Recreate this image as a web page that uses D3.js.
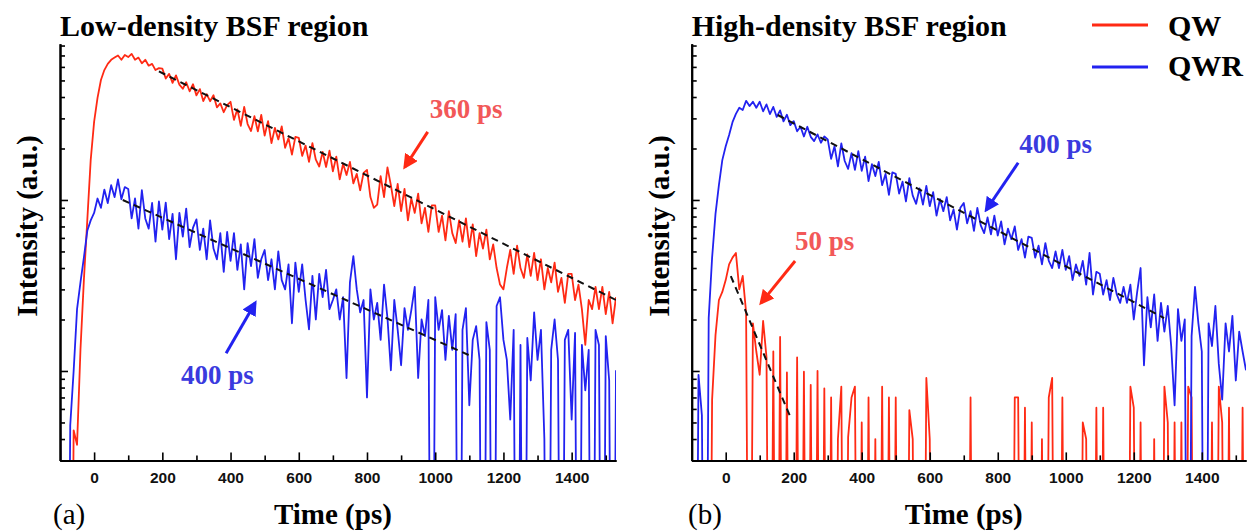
<!DOCTYPE html>
<html>
<head>
<meta charset="utf-8">
<script src="https://cdn.jsdelivr.net/npm/d3@7"></script>
<style>
  body { margin: 0; background: #fff; }
  svg { display: block; }
</style>
</head>
<body>
<svg id="chart" width="1252" height="531"></svg>
<script>
// time bins of the streak trace: first bin -100 ps, 10 ps wide
const t0 = -100, dt = 10;

// (a) low-density BSF region, QW (red)
const qwLow = [
  0.68, 0, 0, 0, 0.45, 0.37, 1.33, 3.4, 7.6, 17.1,
  28.6, 39.5, 50.3, 57.5, 62.5, 66, 68, 70, 66, 70.5,
  68.5, 71.5, 66, 68, 63, 66, 61, 62.5, 57.5, 59,
  58.6, 51.3, 54.6, 48.4, 53.5, 47.3, 44.7, 48.8, 43.2, 47.5,
  40.9, 44.5, 37.9, 41.6, 37.8, 41.0, 34.8, 36.7, 32.6, 35.9,
  37.5, 29.4, 33.9, 27.1, 35.0, 27.8, 25.3, 30.9, 25.2, 31.4,
  23.8, 28.9, 21.5, 26.4, 22.6, 26.9, 20.2, 23.0, 18.4, 23.4,
  23.1, 18.1, 20.8, 16.7, 21.5, 17.2, 15.7, 19.1, 15.6, 19.4,
  14.7, 17.9, 13.2, 16.3, 14.0, 16.7, 12.5, 14.2, 11.4, 14.4,
  15.0, 10.4, 9.0, 9.4, 13.8, 10.4, 15.5, 12.2, 9.2, 12.4,
  8.6, 11.6, 7.6, 10.2, 8.4, 10.9, 7.3, 9.0, 6.5, 9.3,
  9.3, 6.5, 8.1, 5.8, 8.6, 6.4, 5.6, 7.6, 5.7, 7.8,
  5.3, 7.2, 4.7, 6.4, 5.2, 6.7, 4.5, 5.5, 4.0, 3.2,
  3.0, 4.0, 5.1, 3.7, 5.4, 4.0, 3.5, 4.8, 3.6, 4.9,
  3.4, 4.5, 3.0, 4.0, 3.3, 4.3, 2.9, 3.5, 2.5, 3.7,
  3.7, 2.6, 3.2, 2.3, 1.42, 2.6, 2.3, 3.1, 2.3, 3.1,
  2.15, 2.9, 1.9, 2.7
];

// (a) low-density BSF region, QWR (blue)
const qwrLow = [
  0.88, 0, 0, 0.48, 1.0, 2.3, 3.3, 4.6, 6.6, 7.6,
  8.4, 10.2, 9.0, 11.5, 9.6, 12.2, 10.4, 13.2, 10.1, 11.9,
  11.6, 7.8, 10.2, 6.8, 11.4, 7.8, 6.8, 9.6, 5.7, 9.8,
  6.7, 9.65, 5.9, 8.3, 4.5, 8.4, 6.1, 8.9, 5.3, 6.9,
  7.7, 5.1, 6.8, 4.5, 7.6, 5.2, 4.5, 6.4, 3.8, 6.5,
  4.4, 6.4, 3.9, 5.5, 3.0, 5.6, 4.1, 5.9, 3.5, 4.5,
  5.1, 3.4, 4.5, 3.0, 5.0, 3.4, 3.0, 4.2, 1.9, 4.3,
  2.9, 4.2, 2.6, 1.75, 3.6, 2.0, 3.7, 2.7, 3.9, 2.3,
  2.6, 3.0, 2.0, 2.7, 0.91, 3.3, 4.7, 3.0, 2.2, 2.6,
  0.70, 3.0, 2.0, 2.5, 1.52, 3.2, 2.04, 1.01, 2.6, 1.74,
  1.08, 2.33, 1.74, 2.27, 3.1, 0.91, 2.0, 1.6, 2.6, 0,
  2.7, 1.74, 2.27, 1.16, 2.1, 1.33, 2.15, 0, 1.74, 2.33,
  0.63, 1.52, 1.83, 1.16, 0, 1.93, 1.33, 0, 2.4, 2.7,
  1.52, 1.16, 0.52, 1.74, 0, 1.42, 0, 1.56, 0.88, 2.2,
  1.16, 1.74, 0.40, 0, 1.33, 2.0, 1.16, 0, 1.52, 1.74,
  0.52, 1.67, 0, 1.42, 0.77, 1.33, 0, 1.74, 1.42, 0,
  1.6, 0.88, 0, 1.01
];

// (b) high-density BSF region, QW (red)
const qwHigh = [
  0.59, 0, 0, 0, 0, 0, 0.68, 1.62, 2.6, 2.9,
  3.4, 4.2, 4.6, 4.9, 3.0, 3.6, 2.2, 0, 1.9, 1.3,
  0.95, 1.96, 1.2, 0, 1.3, 0, 1.58, 0, 0.98, 0,
  0, 1.2, 0, 0.99, 0, 0.83, 0, 1.0, 0, 0.79,
  0, 0.70, 0, 0.40, 0.81, 0, 0.41, 0.70, 0.81, 0,
  0.50, 0, 0.70, 0, 0.40, 0, 0.81, 0, 0.70, 0,
  0.70, 0, 0, 0, 0.59, 0.40, 0, 0, 0, 0.91,
  0.40, 0, 0, 0, 0, 0, 0, 0, 0, 0,
  0, 0, 0.70, 0, 0, 0, 0, 0, 0, 0,
  0, 0, 0, 0, 0, 0.70, 0.70, 0, 0.61, 0,
  0.50, 0, 0, 0.40, 0, 0.70, 0.91, 0, 0, 0.70,
  0, 0, 0, 0, 0, 0.50, 0.40, 0, 0, 0.61,
  0, 0.61, 0, 0, 0, 0, 0, 0, 0, 0.81,
  0.61, 0, 0.50, 0, 0, 0, 0.40, 0, 0, 0.81,
  0.50, 0, 0.50, 0, 0.50, 0, 0.81, 0.70, 0, 0,
  0, 0, 0, 0.50, 0, 0.81, 0.50, 0, 0.61, 0,
  0, 0, 0.61, 0
];

// (b) high-density BSF region, QWR (blue)
const qwrHigh = [
  0, 0, 0.95, 0.55, 0, 2.04, 4.6, 8.3, 12.2, 17.1,
  20.6, 24, 28.5, 31.9, 34.6, 33.6, 38, 35.4, 37.5, 34.6,
  37.5, 33.0, 36.2, 31.8, 35.0, 30.6, 33.4, 28.8, 31.5, 27.4,
  28.9, 25.2, 26.8, 23.5, 26.8, 23.4, 22.1, 24.2, 21.6, 23.5,
  22.6, 17.4, 20.6, 15.7, 21.4, 16.9, 15.2, 18.8, 15.0, 19.3,
  14.8, 17.9, 12.9, 16.2, 13.8, 16.7, 12.2, 14.2, 10.7, 14.5,
  14.2, 10.9, 12.8, 9.8, 13.4, 10.6, 9.5, 11.7, 9.4, 12.1,
  9.2, 11.1, 8.1, 10.1, 8.6, 10.4, 7.6, 8.8, 6.7, 9.0,
  9.6, 7.3, 8.6, 6.6, 9.0, 7.1, 6.4, 7.9, 6.3, 8.1,
  6.2, 7.5, 5.5, 6.8, 5.9, 7.0, 5.1, 5.9, 4.6, 6.1,
  6.0, 4.6, 5.4, 4.2, 5.6, 4.4, 4.0, 5.0, 4.0, 5.1,
  3.9, 4.7, 3.4, 4.2, 3.6, 4.4, 3.2, 4.9, 2.8, 3.8,
  3.7, 2.8, 3.4, 2.6, 3.5, 2.8, 2.5, 3.1, 2.5, 3.2,
  2.0, 2.9, 4.0, 1.08, 2.7, 1.8, 2.8, 1.5, 2.5, 1.7,
  2.4, 1.4, 0.63, 2.3, 1.5, 2.0, 0, 1.6, 3.1, 1.9,
  1.3, 0, 1.9, 1.4, 2.4, 1.1, 0.68, 1.9, 1.3, 2.1,
  0.88, 1.7, 1.3, 1.01
];

// single-exponential fits, start and end as [ps, a.u.]
const fitLowQw   = [[190, 56.5], [1530, 2.6]];
const fitLowQwr  = [[84, 10], [1098, 1.24]];
const fitHighQw  = [[15, 3.59], [189, 0.545]];
const fitHighQwr = [[153, 31.4], [1289, 2.04]];

const xTicks = [0, 200, 400, 600, 800, 1000, 1200, 1400];
const xMinor = [100, 300, 500, 700, 900, 1100, 1300, 1500];
const yMajor = [1, 10];
const yMinor = [0.3, 0.4, 0.5, 0.6, 0.7, 0.8, 0.9, 2, 3, 4, 5, 6, 7, 8, 9, 20, 30, 40, 50, 60, 70, 80];

const seriesNames = ["QW", "QWR"];

const red = "#ff2a14", blue = "#2222f0";
const redText = "#f25858", blueText = "#3a3ade";
const serif = "'Liberation Serif', 'Times New Roman', serif";
const sans = "'Liberation Sans', Arial, sans-serif";

const plotTop = 43.7, plotBottom = 460.4;

const panels = [
  {
    left: 60, right: 616, title: "Low-density BSF region", tag: "(a)", tagX: 53,
    qw: qwLow, qwr: qwrLow, fits: [fitLowQw, fitLowQwr],
    notes: [
      {text: "360 ps", color: redText, arrow: red, at: [984, 30.2], from: [978, 25], to: [911, 15.6]},
      {text: "400 ps", color: blueText, arrow: blue, at: [255, 0.84], from: [387, 1.27], to: [472, 2.5]}
    ]
  },
  {
    left: 691.7, right: 1246, title: "High-density BSF region", tag: "(b)", tagX: 688,
    qw: qwHigh, qwr: qwrHigh, fits: [fitHighQw, fitHighQwr],
    notes: [
      {text: "50 ps", color: redText, arrow: red, at: [204, 5.1], from: [204, 4.4], to: [104, 2.5]},
      {text: "400 ps", color: blueText, arrow: blue, at: [863, 18.8], from: [860, 16.5], to: [766, 8.74]}
    ]
  }
];

const svg = d3.select("#chart");
const defs = svg.append("defs");

[["red", red], ["blue", blue]].forEach(([k, c]) => {
  defs.append("marker")
    .attr("id", "head-" + k)
    .attr("viewBox", "0 0 10 10")
    .attr("refX", 8).attr("refY", 5)
    .attr("markerWidth", 5).attr("markerHeight", 5)
    .attr("markerUnits", "strokeWidth")
    .attr("orient", "auto")
    .append("path")
    .attr("d", "M0,0 L10,5 L0,10 Z")
    .attr("fill", c);
});

panels.forEach((p, pi) => {
  const x = d3.scaleLinear().domain([-100, 1530]).range([p.left, p.right]);
  const y = d3.scaleLog().domain([0.3, 82]).range([plotBottom, plotTop]);

  const clipId = "clip" + pi;
  defs.append("clipPath").attr("id", clipId)
    .append("rect")
    .attr("x", p.left).attr("y", plotTop - 2)
    .attr("width", p.right - p.left).attr("height", plotBottom - plotTop + 2);

  const line = d3.line()
    .x((d, i) => x(t0 + i * dt))
    .y(d => y(Math.max(d, 1e-3)));

  const g = svg.append("g").attr("clip-path", `url(#${clipId})`);

  g.append("path").datum(p.qw)
    .attr("d", line)
    .attr("fill", "none").attr("stroke", red).attr("stroke-width", 1.8)
    .attr("stroke-linejoin", "round");

  g.append("path").datum(p.qwr)
    .attr("d", line)
    .attr("fill", "none").attr("stroke", blue).attr("stroke-width", 1.8)
    .attr("stroke-linejoin", "round");

  const fitLine = d3.line().x(d => x(d[0])).y(d => y(d[1]));
  p.fits.forEach(f => {
    g.append("path").datum(f)
      .attr("d", fitLine)
      .attr("fill", "none").attr("stroke", "#111")
      .attr("stroke-width", 2).attr("stroke-dasharray", "7,5");
  });

  // axes, ticks pointing inward
  const xAxis = svg.append("g").attr("transform", `translate(0,${plotBottom})`)
    .call(d3.axisBottom(x).tickValues(xTicks).tickFormat(d3.format("d"))
      .tickSize(-8).tickSizeOuter(0).tickPadding(12));
  svg.append("g").attr("transform", `translate(0,${plotBottom})`)
    .call(d3.axisBottom(x).tickValues(xMinor).tickSize(-5).tickSizeOuter(0).tickFormat(""));

  svg.append("g").attr("transform", `translate(${p.left},0)`)
    .call(d3.axisLeft(y).tickValues(yMajor).tickSize(-8).tickSizeOuter(0).tickFormat(""));
  svg.append("g").attr("transform", `translate(${p.left},0)`)
    .call(d3.axisLeft(y).tickValues(yMinor).tickSize(-5).tickSizeOuter(0).tickFormat(""));

  svg.selectAll(".domain").attr("stroke", "#000").attr("stroke-width", 2);
  svg.selectAll(".tick line").attr("stroke", "#000").attr("stroke-width", 1.6);

  xAxis.selectAll("text")
    .attr("font-family", sans).attr("font-weight", "bold")
    .attr("font-size", 15.5).attr("fill", "#111");

  // annotations
  p.notes.forEach(n => {
    svg.append("line")
      .attr("x1", x(n.from[0])).attr("y1", y(n.from[1]))
      .attr("x2", x(n.to[0])).attr("y2", y(n.to[1]))
      .attr("stroke", n.arrow).attr("stroke-width", 3)
      .attr("marker-end", `url(#head-${n.arrow === red ? "red" : "blue"})`);
    svg.append("text")
      .attr("x", x(n.at[0])).attr("y", y(n.at[1]))
      .attr("font-family", serif).attr("font-weight", "bold")
      .attr("font-size", 27).attr("fill", n.color)
      .text(n.text);
  });

  // titles and labels
  svg.append("text")
    .attr("x", p.left).attr("y", 36)
    .attr("font-family", serif).attr("font-weight", "bold").attr("font-size", 30)
    .text(p.title);

  svg.append("text")
    .attr("x", x(700)).attr("y", 524)
    .attr("text-anchor", "middle")
    .attr("font-family", serif).attr("font-weight", "bold").attr("font-size", 29)
    .text("Time (ps)");

  svg.append("text")
    .attr("x", p.tagX).attr("y", 524)
    .attr("font-family", serif).attr("font-size", 29)
    .text(p.tag);

  svg.append("text")
    .attr("transform", `translate(${p.left - 23},226) rotate(-90)`)
    .attr("text-anchor", "middle")
    .attr("font-family", serif).attr("font-weight", "bold").attr("font-size", 29)
    .text("Intensity (a.u.)");
});

// legend
const legend = svg.append("g");
[red, blue].forEach((c, i) => {
  legend.append("line")
    .attr("x1", 1092).attr("x2", 1148)
    .attr("y1", 25 + i * 42).attr("y2", 25 + i * 42)
    .attr("stroke", c).attr("stroke-width", 3);
  legend.append("text")
    .attr("x", 1168).attr("y", 36 + i * 40)
    .attr("font-family", serif).attr("font-weight", "bold").attr("font-size", 30)
    .text(seriesNames[i]);
});
</script>
</body>
</html>
